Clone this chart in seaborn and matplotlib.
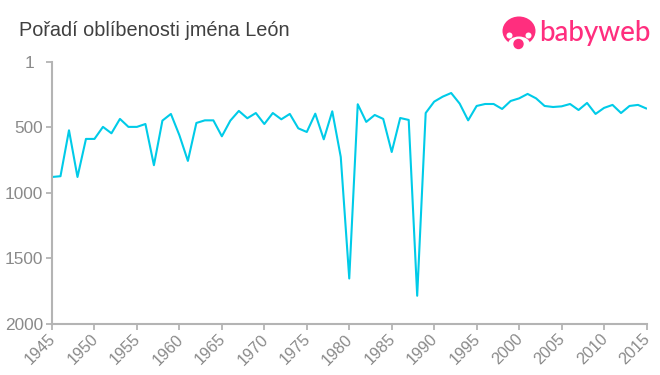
import matplotlib
matplotlib.use("Agg")
import matplotlib.pyplot as plt
from matplotlib.patches import Circle, Ellipse
from matplotlib.transforms import ScaledTranslation
import seaborn as sns
import pandas as pd

years = list(range(1945, 2016))
ranks = [880, 874, 523, 880, 589, 589, 497, 546, 436, 497,
         497, 475, 790, 449, 398, 561, 757, 467, 447, 447,
         569, 449, 375, 431, 391, 475, 391, 439, 398, 508,
         536, 396, 592, 378, 727, 1656, 324, 459, 406, 436,
         689, 429, 444, 1788, 391, 304, 266, 238, 319, 447,
         337, 322, 322, 360, 299, 279, 245, 279, 337, 345,
         340, 322, 368, 314, 398, 352, 329, 391, 337, 329, 357]
x_ticks = list(range(1945, 2016, 5))
y_ticks = [1, 500, 1000, 1500, 2000]
title = "Pořadí oblíbenosti jména León"
brand = "babyweb"

LINE = "#00cbe8"
AXIS = "#b4b4b4"
TICK = "#8a8a8a"
PINK = "#ff2e7e"
W, H = 660, 375

sns.set_theme(style="white")
plt.rcParams["font.family"] = ["Liberation Sans", "DejaVu Sans"]

fig = plt.figure(figsize=(W / 100, H / 100), dpi=100)
ax = fig.add_axes([52 / W, 1 - 323.5 / H, (646.5 - 52) / W, (323.5 - 62) / H])
df = pd.DataFrame({"year": years, "rank": ranks})
sns.lineplot(data=df, x="year", y="rank", ax=ax, color=LINE, linewidth=1.5, errorbar=None)
ax.set_xlim(1945, 2015)
ax.set_ylim(2000, 1)
ax.set_xlabel("")
ax.set_ylabel("")
ax.set_xticks(x_ticks)
ax.set_yticks(y_ticks)
ax.set_xticklabels([str(v) for v in x_ticks], rotation=45, ha="right", rotation_mode="anchor",
                   fontsize=11.6, color=TICK)
ax.set_yticklabels([str(v) for v in y_ticks], fontsize=12.4, color=TICK)
ax.tick_params(axis="both", length=4, width=1.3, color=AXIS, pad=2.5, bottom=True, left=True)
for s in ("top", "right"):
    ax.spines[s].set_visible(False)
for s in ("left", "bottom"):
    ax.spines[s].set_color(AXIS)
    ax.spines[s].set_linewidth(1.5)

shift = ScaledTranslation(-4 / 100, 1 / 100, fig.dpi_scale_trans)
for lab in ax.get_xticklabels():
    lab.set_transform(lab.get_transform() + shift)
first = ax.get_yticklabels()[0]
first.set_transform(first.get_transform() + ScaledTranslation(-9 / 100, 0, fig.dpi_scale_trans))

fig.text(19 / W, 1 - 31 / H, title, fontsize=14.3, color="#404040", va="center", ha="left")

# Logo, in a pixel-coordinate overlay
lg = fig.add_axes([0, 0, 1, 1], facecolor="none")
lg.set_xlim(0, W)
lg.set_ylim(H, 0)
lg.axis("off")
lg.add_patch(Ellipse((519, 31), 33, 29, color=PINK, lw=0))
lg.add_patch(Ellipse((519, 44), 22, 15, color="white", lw=0))
lg.add_patch(Circle((509.5, 35.5), 3, color="white", lw=0))
lg.add_patch(Circle((528.5, 35.5), 3, color="white", lw=0))
lg.add_patch(Circle((518.5, 44), 5.2, color=PINK, lw=0))
lg.text(539.5, 33.5, brand, fontsize=20.0, color=PINK, va="center", ha="left",
        family=["Lato", "DejaVu Sans"], fontweight="medium")

fig.savefig("out.png", dpi=100)
